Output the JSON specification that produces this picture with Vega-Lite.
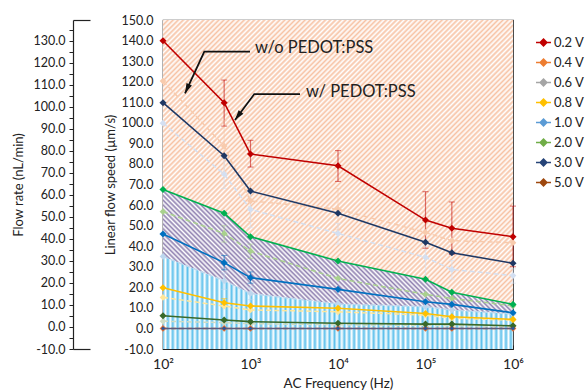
{
"$schema":"https://vega.github.io/schema/vega-lite/v6.json",
"width":350,"height":329,
"autosize":{"type":"none"},
"padding":{"left":163,"top":20,"right":73,"bottom":42},
"background":"white",
"config":{"font":"Lato","view":{"stroke":"#3a3a3a","strokeWidth":1.2},
"axis":{"domainColor":"#222","tickColor":"#222","labelColor":"#222","titleColor":"#222","titleFontWeight":"normal","grid":false,"labelFont":"Lato","titleFont":"Lato","domainWidth":1.2,"tickWidth":1}},
"datasets":{
"d":[
{"s":"A1","w":"w/","f":100,"v":139.9},{"s":"A1","w":"w/","f":500,"v":109.8,"lo":98.4,"hi":120.8},{"s":"A1","w":"w/","f":1000,"v":84.8,"lo":78.5,"hi":91.5},{"s":"A1","w":"w/","f":10000,"v":79.1,"lo":71.5,"hi":86.5},{"s":"A1","w":"w/","f":100000,"v":52.7,"lo":39,"hi":66.5},{"s":"A1","w":"w/","f":200000,"v":48.7,"lo":36,"hi":61.5},{"s":"A1","w":"w/","f":1000000,"v":44.6,"lo":30,"hi":59.5},
{"s":"A2","w":"w/","f":100,"v":109.8},{"s":"A2","w":"w/","f":500,"v":84},{"s":"A2","w":"w/","f":1000,"v":66.8},{"s":"A2","w":"w/","f":10000,"v":56},{"s":"A2","w":"w/","f":100000,"v":41.9},{"s":"A2","w":"w/","f":200000,"v":36.8},{"s":"A2","w":"w/","f":1000000,"v":31.7},
{"s":"A3","w":"w/","f":100,"v":67.6},{"s":"A3","w":"w/","f":500,"v":56},{"s":"A3","w":"w/","f":1000,"v":44.6},{"s":"A3","w":"w/","f":10000,"v":32.8},{"s":"A3","w":"w/","f":100000,"v":23.9},{"s":"A3","w":"w/","f":200000,"v":17.6},{"s":"A3","w":"w/","f":1000000,"v":11.7},
{"s":"A4","w":"w/","f":100,"v":45.9},{"s":"A4","w":"w/","f":500,"v":32,"lo":28.5,"hi":35.5},{"s":"A4","w":"w/","f":1000,"v":24.7,"lo":22,"hi":27.5},{"s":"A4","w":"w/","f":10000,"v":19},{"s":"A4","w":"w/","f":100000,"v":13},{"s":"A4","w":"w/","f":200000,"v":11.7},{"s":"A4","w":"w/","f":1000000,"v":7.6},
{"s":"A5","w":"w/","f":100,"v":19.8},{"s":"A5","w":"w/","f":500,"v":12.5,"lo":10.5,"hi":14.5},{"s":"A5","w":"w/","f":1000,"v":10.9},{"s":"A5","w":"w/","f":10000,"v":9.8},{"s":"A5","w":"w/","f":100000,"v":7.3},{"s":"A5","w":"w/","f":200000,"v":5.7},{"s":"A5","w":"w/","f":1000000,"v":4.4},
{"s":"A6","w":"w/","f":100,"v":6.2},{"s":"A6","w":"w/","f":500,"v":4.1},{"s":"A6","w":"w/","f":1000,"v":3.3},{"s":"A6","w":"w/","f":10000,"v":2.5},{"s":"A6","w":"w/","f":100000,"v":2.1},{"s":"A6","w":"w/","f":200000,"v":2.1},{"s":"A6","w":"w/","f":1000000,"v":1.3},
{"s":"A7","w":"w/","f":100,"v":0},{"s":"A7","w":"w/","f":500,"v":0},{"s":"A7","w":"w/","f":1000,"v":0},{"s":"A7","w":"w/","f":10000,"v":0},{"s":"A7","w":"w/","f":100000,"v":0},{"s":"A7","w":"w/","f":200000,"v":0},{"s":"A7","w":"w/","f":1000000,"v":0},
{"s":"B1","w":"w/o","f":100,"v":120.3},{"s":"B1","w":"w/o","f":500,"v":88.7,"lo":76,"hi":101},{"s":"B1","w":"w/o","f":1000,"v":62,"lo":52,"hi":72},{"s":"B1","w":"w/o","f":10000,"v":58,"lo":48,"hi":68},{"s":"B1","w":"w/o","f":100000,"v":46.7},{"s":"B1","w":"w/o","f":200000,"v":42.7},{"s":"B1","w":"w/o","f":1000000,"v":41.7},
{"s":"B2","w":"w/o","f":100,"v":99.8},{"s":"B2","w":"w/o","f":500,"v":75,"lo":68,"hi":83},{"s":"B2","w":"w/o","f":1000,"v":57.9,"lo":49,"hi":66},{"s":"B2","w":"w/o","f":10000,"v":46.2,"lo":41,"hi":51},{"s":"B2","w":"w/o","f":100000,"v":34.6,"lo":24,"hi":40},{"s":"B2","w":"w/o","f":200000,"v":28.7,"lo":24,"hi":33},{"s":"B2","w":"w/o","f":1000000,"v":25.7,"lo":22,"hi":29},
{"s":"B3","w":"w/o","f":100,"v":56.8},{"s":"B3","w":"w/o","f":500,"v":46.2,"lo":42,"hi":50},{"s":"B3","w":"w/o","f":1000,"v":37.6,"lo":34,"hi":41},{"s":"B3","w":"w/o","f":10000,"v":24.3},{"s":"B3","w":"w/o","f":100000,"v":16.6},{"s":"B3","w":"w/o","f":200000,"v":14.6},{"s":"B3","w":"w/o","f":1000000,"v":11},
{"s":"B4","w":"w/o","f":100,"v":35},{"s":"B4","w":"w/o","f":500,"v":23.2,"lo":19,"hi":27},{"s":"B4","w":"w/o","f":1000,"v":17,"lo":14,"hi":20},{"s":"B4","w":"w/o","f":10000,"v":11.9,"lo":10,"hi":14},{"s":"B4","w":"w/o","f":100000,"v":10.6},{"s":"B4","w":"w/o","f":200000,"v":9},{"s":"B4","w":"w/o","f":1000000,"v":7},
{"s":"B5","w":"w/o","f":100,"v":15.1},{"s":"B5","w":"w/o","f":500,"v":10.9},{"s":"B5","w":"w/o","f":1000,"v":9},{"s":"B5","w":"w/o","f":10000,"v":8.1},{"s":"B5","w":"w/o","f":100000,"v":6.5},{"s":"B5","w":"w/o","f":200000,"v":5},{"s":"B5","w":"w/o","f":1000000,"v":4},
{"s":"B6","w":"w/o","f":100,"v":3.5},{"s":"B6","w":"w/o","f":500,"v":2.8},{"s":"B6","w":"w/o","f":1000,"v":2.3},{"s":"B6","w":"w/o","f":10000,"v":1.8},{"s":"B6","w":"w/o","f":100000,"v":1.5},{"s":"B6","w":"w/o","f":200000,"v":1.4},{"s":"B6","w":"w/o","f":1000000,"v":1},
{"s":"B7","w":"w/o","f":100,"v":0},{"s":"B7","w":"w/o","f":500,"v":0},{"s":"B7","w":"w/o","f":1000,"v":0},{"s":"B7","w":"w/o","f":10000,"v":0},{"s":"B7","w":"w/o","f":100000,"v":0},{"s":"B7","w":"w/o","f":200000,"v":0},{"s":"B7","w":"w/o","f":1000000,"v":0}
],
"arrows":[{"a":1,"o":1,"f":987,"v":134.6},{"a":1,"o":2,"f":296.5,"v":134.6},{"a":1,"o":3,"f":178.4,"v":114.35},{"a":2,"o":1,"f":3679,"v":114},{"a":2,"o":2,"f":1105,"v":114},{"a":2,"o":3,"f":665,"v":101.4}],
"heads":[{"a":1,"f":188.6,"v":116.5},{"a":2,"f":719.5,"v":103.3}],
"notes":[{"t":"w/o PEDOT:PSS","f":1126,"v":136.2},{"t":"w/ PEDOT:PSS","f":4308,"v":115.1}],
"leg":[{"V":"0.2 V"},{"V":"0.4 V"},{"V":"0.6 V"},{"V":"0.8 V"},{"V":"1.0 V"},{"V":"2.0 V"},{"V":"3.0 V"},{"V":"5.0 V"}],
"flow":[{"q":-10},{"q":139.35}]
},
"layer":[
{
"data":{"name":"d"},
"encoding":{
"x":{"field":"f","type":"quantitative","scale":{"type":"log","domain":[100,1000000],"nice":false},
"axis":{"title":"AC Frequency (Hz)","values":[100,200,300,400,500,600,700,800,900,1000,2000,3000,4000,5000,6000,7000,8000,9000,10000,20000,30000,40000,50000,60000,70000,80000,90000,100000,200000,300000,400000,500000,600000,700000,800000,900000,1000000],
"labelExpr":"datum.value == 100 ? '10²' : datum.value == 1000 ? '10³' : datum.value == 10000 ? '10⁴' : datum.value == 100000 ? '10⁵' : datum.value == 1000000 ? '10⁶' : ''",
"tickSize":-4,"labelPadding":12,"labelFontSize":14,"titleFontSize":13.5,"titlePadding":5,"labelOverlap":false,"labelFlush":false}},
"y":{"field":"v","type":"quantitative","scale":{"domain":[-10,150],"nice":false,"zero":false},
"axis":{"title":"Linear flow speed (µm/s)","values":[-10,-5,0,5,10,15,20,25,30,35,40,45,50,55,60,65,70,75,80,85,90,95,100,105,110,115,120,125,130,135,140,145,150],
"labelExpr":"datum.value % 10 == 0 ? replace(format(datum.value, '.1f'), '−', '-') : ''",
"tickSize":-4,"labelPadding":14,"labelFontSize":12.5,"titleFontSize":13,"titlePadding":4,"labelOverlap":false,"labelFlush":false}}
},
"layer":[
{"transform":[{"pivot":"s","value":"v","groupby":["f"]}],
"mark":{"type":"area","color":{"gradient":"linear","x1":0,"y1":0,"x2":1.092,"y2":0.887,"stops":[
{"offset":0,"color":"#f7c3a5"},{"offset":0.004,"color":"#fff"},{"offset":0.008,"color":"#f7c3a5"},{"offset":0.012,"color":"#fff"},{"offset":0.016,"color":"#f7c3a5"},{"offset":0.02,"color":"#fff"},{"offset":0.024,"color":"#f7c3a5"},{"offset":0.028,"color":"#fff"},{"offset":0.032,"color":"#f7c3a5"},{"offset":0.036,"color":"#fff"},{"offset":0.04,"color":"#f7c3a5"},{"offset":0.044,"color":"#fff"},{"offset":0.048,"color":"#f7c3a5"},{"offset":0.052,"color":"#fff"},{"offset":0.056,"color":"#f7c3a5"},{"offset":0.06,"color":"#fff"},{"offset":0.064,"color":"#f7c3a5"},{"offset":0.068,"color":"#fff"},{"offset":0.072,"color":"#f7c3a5"},{"offset":0.076,"color":"#fff"},{"offset":0.08,"color":"#f7c3a5"},{"offset":0.084,"color":"#fff"},{"offset":0.088,"color":"#f7c3a5"},{"offset":0.092,"color":"#fff"},{"offset":0.096,"color":"#f7c3a5"},
{"offset":0.1,"color":"#fff"},{"offset":0.104,"color":"#f7c3a5"},{"offset":0.108,"color":"#fff"},{"offset":0.112,"color":"#f7c3a5"},{"offset":0.116,"color":"#fff"},{"offset":0.12,"color":"#f7c3a5"},{"offset":0.124,"color":"#fff"},{"offset":0.128,"color":"#f7c3a5"},{"offset":0.132,"color":"#fff"},{"offset":0.136,"color":"#f7c3a5"},{"offset":0.14,"color":"#fff"},{"offset":0.144,"color":"#f7c3a5"},{"offset":0.148,"color":"#fff"},{"offset":0.152,"color":"#f7c3a5"},{"offset":0.156,"color":"#fff"},{"offset":0.16,"color":"#f7c3a5"},{"offset":0.164,"color":"#fff"},{"offset":0.168,"color":"#f7c3a5"},{"offset":0.172,"color":"#fff"},{"offset":0.176,"color":"#f7c3a5"},{"offset":0.18,"color":"#fff"},{"offset":0.184,"color":"#f7c3a5"},{"offset":0.188,"color":"#fff"},{"offset":0.192,"color":"#f7c3a5"},{"offset":0.196,"color":"#fff"},
{"offset":0.2,"color":"#f7c3a5"},{"offset":0.204,"color":"#fff"},{"offset":0.208,"color":"#f7c3a5"},{"offset":0.212,"color":"#fff"},{"offset":0.216,"color":"#f7c3a5"},{"offset":0.22,"color":"#fff"},{"offset":0.224,"color":"#f7c3a5"},{"offset":0.228,"color":"#fff"},{"offset":0.232,"color":"#f7c3a5"},{"offset":0.236,"color":"#fff"},{"offset":0.24,"color":"#f7c3a5"},{"offset":0.244,"color":"#fff"},{"offset":0.248,"color":"#f7c3a5"},{"offset":0.252,"color":"#fff"},{"offset":0.256,"color":"#f7c3a5"},{"offset":0.26,"color":"#fff"},{"offset":0.264,"color":"#f7c3a5"},{"offset":0.268,"color":"#fff"},{"offset":0.272,"color":"#f7c3a5"},{"offset":0.276,"color":"#fff"},{"offset":0.28,"color":"#f7c3a5"},{"offset":0.284,"color":"#fff"},{"offset":0.288,"color":"#f7c3a5"},{"offset":0.292,"color":"#fff"},{"offset":0.296,"color":"#f7c3a5"},
{"offset":0.3,"color":"#fff"},{"offset":0.304,"color":"#f7c3a5"},{"offset":0.308,"color":"#fff"},{"offset":0.312,"color":"#f7c3a5"},{"offset":0.316,"color":"#fff"},{"offset":0.32,"color":"#f7c3a5"},{"offset":0.324,"color":"#fff"},{"offset":0.328,"color":"#f7c3a5"},{"offset":0.332,"color":"#fff"},{"offset":0.336,"color":"#f7c3a5"},{"offset":0.34,"color":"#fff"},{"offset":0.344,"color":"#f7c3a5"},{"offset":0.348,"color":"#fff"},{"offset":0.352,"color":"#f7c3a5"},{"offset":0.356,"color":"#fff"},{"offset":0.36,"color":"#f7c3a5"},{"offset":0.364,"color":"#fff"},{"offset":0.368,"color":"#f7c3a5"},{"offset":0.372,"color":"#fff"},{"offset":0.376,"color":"#f7c3a5"},{"offset":0.38,"color":"#fff"},{"offset":0.384,"color":"#f7c3a5"},{"offset":0.388,"color":"#fff"},{"offset":0.392,"color":"#f7c3a5"},{"offset":0.396,"color":"#fff"},
{"offset":0.4,"color":"#f7c3a5"},{"offset":0.404,"color":"#fff"},{"offset":0.408,"color":"#f7c3a5"},{"offset":0.412,"color":"#fff"},{"offset":0.416,"color":"#f7c3a5"},{"offset":0.42,"color":"#fff"},{"offset":0.424,"color":"#f7c3a5"},{"offset":0.428,"color":"#fff"},{"offset":0.432,"color":"#f7c3a5"},{"offset":0.436,"color":"#fff"},{"offset":0.44,"color":"#f7c3a5"},{"offset":0.444,"color":"#fff"},{"offset":0.448,"color":"#f7c3a5"},{"offset":0.452,"color":"#fff"},{"offset":0.456,"color":"#f7c3a5"},{"offset":0.46,"color":"#fff"},{"offset":0.464,"color":"#f7c3a5"},{"offset":0.468,"color":"#fff"},{"offset":0.472,"color":"#f7c3a5"},{"offset":0.476,"color":"#fff"},{"offset":0.48,"color":"#f7c3a5"},{"offset":0.484,"color":"#fff"},{"offset":0.488,"color":"#f7c3a5"},{"offset":0.492,"color":"#fff"},{"offset":0.496,"color":"#f7c3a5"},
{"offset":0.5,"color":"#fff"},{"offset":0.504,"color":"#f7c3a5"},{"offset":0.508,"color":"#fff"},{"offset":0.512,"color":"#f7c3a5"},{"offset":0.516,"color":"#fff"},{"offset":0.52,"color":"#f7c3a5"},{"offset":0.524,"color":"#fff"},{"offset":0.528,"color":"#f7c3a5"},{"offset":0.532,"color":"#fff"},{"offset":0.536,"color":"#f7c3a5"},{"offset":0.54,"color":"#fff"},{"offset":0.544,"color":"#f7c3a5"},{"offset":0.548,"color":"#fff"},{"offset":0.552,"color":"#f7c3a5"},{"offset":0.556,"color":"#fff"},{"offset":0.56,"color":"#f7c3a5"},{"offset":0.564,"color":"#fff"},{"offset":0.568,"color":"#f7c3a5"},{"offset":0.572,"color":"#fff"},{"offset":0.576,"color":"#f7c3a5"},{"offset":0.58,"color":"#fff"},{"offset":0.584,"color":"#f7c3a5"},{"offset":0.588,"color":"#fff"},{"offset":0.592,"color":"#f7c3a5"},{"offset":0.596,"color":"#fff"},
{"offset":0.6,"color":"#f7c3a5"},{"offset":0.604,"color":"#fff"},{"offset":0.608,"color":"#f7c3a5"},{"offset":0.612,"color":"#fff"},{"offset":0.616,"color":"#f7c3a5"},{"offset":0.62,"color":"#fff"},{"offset":0.624,"color":"#f7c3a5"},{"offset":0.628,"color":"#fff"},{"offset":0.632,"color":"#f7c3a5"},{"offset":0.636,"color":"#fff"},{"offset":0.64,"color":"#f7c3a5"},{"offset":0.644,"color":"#fff"},{"offset":0.648,"color":"#f7c3a5"},{"offset":0.652,"color":"#fff"},{"offset":0.656,"color":"#f7c3a5"},{"offset":0.66,"color":"#fff"},{"offset":0.664,"color":"#f7c3a5"},{"offset":0.668,"color":"#fff"},{"offset":0.672,"color":"#f7c3a5"},{"offset":0.676,"color":"#fff"},{"offset":0.68,"color":"#f7c3a5"},{"offset":0.684,"color":"#fff"},{"offset":0.688,"color":"#f7c3a5"},{"offset":0.692,"color":"#fff"},{"offset":0.696,"color":"#f7c3a5"},
{"offset":0.7,"color":"#fff"},{"offset":0.704,"color":"#f7c3a5"},{"offset":0.708,"color":"#fff"},{"offset":0.712,"color":"#f7c3a5"},{"offset":0.716,"color":"#fff"},{"offset":0.72,"color":"#f7c3a5"},{"offset":0.724,"color":"#fff"},{"offset":0.728,"color":"#f7c3a5"},{"offset":0.732,"color":"#fff"},{"offset":0.736,"color":"#f7c3a5"},{"offset":0.74,"color":"#fff"},{"offset":0.744,"color":"#f7c3a5"},{"offset":0.748,"color":"#fff"},{"offset":0.752,"color":"#f7c3a5"},{"offset":0.756,"color":"#fff"},{"offset":0.76,"color":"#f7c3a5"},{"offset":0.764,"color":"#fff"},{"offset":0.768,"color":"#f7c3a5"},{"offset":0.772,"color":"#fff"},{"offset":0.776,"color":"#f7c3a5"},{"offset":0.78,"color":"#fff"},{"offset":0.784,"color":"#f7c3a5"},{"offset":0.788,"color":"#fff"},{"offset":0.792,"color":"#f7c3a5"},{"offset":0.796,"color":"#fff"},
{"offset":0.8,"color":"#f7c3a5"},{"offset":0.804,"color":"#fff"},{"offset":0.808,"color":"#f7c3a5"},{"offset":0.812,"color":"#fff"},{"offset":0.816,"color":"#f7c3a5"},{"offset":0.82,"color":"#fff"},{"offset":0.824,"color":"#f7c3a5"},{"offset":0.828,"color":"#fff"},{"offset":0.832,"color":"#f7c3a5"},{"offset":0.836,"color":"#fff"},{"offset":0.84,"color":"#f7c3a5"},{"offset":0.844,"color":"#fff"},{"offset":0.848,"color":"#f7c3a5"},{"offset":0.852,"color":"#fff"},{"offset":0.856,"color":"#f7c3a5"},{"offset":0.86,"color":"#fff"},{"offset":0.864,"color":"#f7c3a5"},{"offset":0.868,"color":"#fff"},{"offset":0.872,"color":"#f7c3a5"},{"offset":0.876,"color":"#fff"},{"offset":0.88,"color":"#f7c3a5"},{"offset":0.884,"color":"#fff"},{"offset":0.888,"color":"#f7c3a5"},{"offset":0.892,"color":"#fff"},{"offset":0.896,"color":"#f7c3a5"},
{"offset":0.9,"color":"#fff"},{"offset":0.904,"color":"#f7c3a5"},{"offset":0.908,"color":"#fff"},{"offset":0.912,"color":"#f7c3a5"},{"offset":0.916,"color":"#fff"},{"offset":0.92,"color":"#f7c3a5"},{"offset":0.924,"color":"#fff"},{"offset":0.928,"color":"#f7c3a5"},{"offset":0.932,"color":"#fff"},{"offset":0.936,"color":"#f7c3a5"},{"offset":0.94,"color":"#fff"},{"offset":0.944,"color":"#f7c3a5"},{"offset":0.948,"color":"#fff"},{"offset":0.952,"color":"#f7c3a5"},{"offset":0.956,"color":"#fff"},{"offset":0.96,"color":"#f7c3a5"},{"offset":0.964,"color":"#fff"},{"offset":0.968,"color":"#f7c3a5"},{"offset":0.972,"color":"#fff"},{"offset":0.976,"color":"#f7c3a5"},{"offset":0.98,"color":"#fff"},{"offset":0.984,"color":"#f7c3a5"},{"offset":0.988,"color":"#fff"},{"offset":0.992,"color":"#f7c3a5"},{"offset":0.996,"color":"#fff"},{"offset":1,"color":"#f7c3a5"}
]}},
"encoding":{"y":{"field":"A3","type":"quantitative"},"y2":{"datum":150}}},
{"transform":[{"pivot":"s","value":"v","groupby":["f"]}],
"mark":{"type":"area","color":{"gradient":"linear","x1":0,"y1":1,"x2":1.2035,"y2":0.5716,"stops":[
{"offset":0,"color":"#8f80b0"},{"offset":0.005,"color":"#fff"},{"offset":0.01,"color":"#8f80b0"},{"offset":0.015,"color":"#fff"},{"offset":0.02,"color":"#8f80b0"},{"offset":0.025,"color":"#fff"},{"offset":0.03,"color":"#8f80b0"},{"offset":0.035,"color":"#fff"},{"offset":0.04,"color":"#8f80b0"},{"offset":0.045,"color":"#fff"},{"offset":0.05,"color":"#8f80b0"},{"offset":0.055,"color":"#fff"},{"offset":0.06,"color":"#8f80b0"},{"offset":0.065,"color":"#fff"},{"offset":0.07,"color":"#8f80b0"},{"offset":0.075,"color":"#fff"},{"offset":0.08,"color":"#8f80b0"},{"offset":0.085,"color":"#fff"},{"offset":0.09,"color":"#8f80b0"},{"offset":0.095,"color":"#fff"},
{"offset":0.1,"color":"#8f80b0"},{"offset":0.105,"color":"#fff"},{"offset":0.11,"color":"#8f80b0"},{"offset":0.115,"color":"#fff"},{"offset":0.12,"color":"#8f80b0"},{"offset":0.125,"color":"#fff"},{"offset":0.13,"color":"#8f80b0"},{"offset":0.135,"color":"#fff"},{"offset":0.14,"color":"#8f80b0"},{"offset":0.145,"color":"#fff"},{"offset":0.15,"color":"#8f80b0"},{"offset":0.155,"color":"#fff"},{"offset":0.16,"color":"#8f80b0"},{"offset":0.165,"color":"#fff"},{"offset":0.17,"color":"#8f80b0"},{"offset":0.175,"color":"#fff"},{"offset":0.18,"color":"#8f80b0"},{"offset":0.185,"color":"#fff"},{"offset":0.19,"color":"#8f80b0"},{"offset":0.195,"color":"#fff"},
{"offset":0.2,"color":"#8f80b0"},{"offset":0.205,"color":"#fff"},{"offset":0.21,"color":"#8f80b0"},{"offset":0.215,"color":"#fff"},{"offset":0.22,"color":"#8f80b0"},{"offset":0.225,"color":"#fff"},{"offset":0.23,"color":"#8f80b0"},{"offset":0.235,"color":"#fff"},{"offset":0.24,"color":"#8f80b0"},{"offset":0.245,"color":"#fff"},{"offset":0.25,"color":"#8f80b0"},{"offset":0.255,"color":"#fff"},{"offset":0.26,"color":"#8f80b0"},{"offset":0.265,"color":"#fff"},{"offset":0.27,"color":"#8f80b0"},{"offset":0.275,"color":"#fff"},{"offset":0.28,"color":"#8f80b0"},{"offset":0.285,"color":"#fff"},{"offset":0.29,"color":"#8f80b0"},{"offset":0.295,"color":"#fff"},
{"offset":0.3,"color":"#8f80b0"},{"offset":0.305,"color":"#fff"},{"offset":0.31,"color":"#8f80b0"},{"offset":0.315,"color":"#fff"},{"offset":0.32,"color":"#8f80b0"},{"offset":0.325,"color":"#fff"},{"offset":0.33,"color":"#8f80b0"},{"offset":0.335,"color":"#fff"},{"offset":0.34,"color":"#8f80b0"},{"offset":0.345,"color":"#fff"},{"offset":0.35,"color":"#8f80b0"},{"offset":0.355,"color":"#fff"},{"offset":0.36,"color":"#8f80b0"},{"offset":0.365,"color":"#fff"},{"offset":0.37,"color":"#8f80b0"},{"offset":0.375,"color":"#fff"},{"offset":0.38,"color":"#8f80b0"},{"offset":0.385,"color":"#fff"},{"offset":0.39,"color":"#8f80b0"},{"offset":0.395,"color":"#fff"},
{"offset":0.4,"color":"#8f80b0"},{"offset":0.405,"color":"#fff"},{"offset":0.41,"color":"#8f80b0"},{"offset":0.415,"color":"#fff"},{"offset":0.42,"color":"#8f80b0"},{"offset":0.425,"color":"#fff"},{"offset":0.43,"color":"#8f80b0"},{"offset":0.435,"color":"#fff"},{"offset":0.44,"color":"#8f80b0"},{"offset":0.445,"color":"#fff"},{"offset":0.45,"color":"#8f80b0"},{"offset":0.455,"color":"#fff"},{"offset":0.46,"color":"#8f80b0"},{"offset":0.465,"color":"#fff"},{"offset":0.47,"color":"#8f80b0"},{"offset":0.475,"color":"#fff"},{"offset":0.48,"color":"#8f80b0"},{"offset":0.485,"color":"#fff"},{"offset":0.49,"color":"#8f80b0"},{"offset":0.495,"color":"#fff"},
{"offset":0.5,"color":"#8f80b0"},{"offset":0.505,"color":"#fff"},{"offset":0.51,"color":"#8f80b0"},{"offset":0.515,"color":"#fff"},{"offset":0.52,"color":"#8f80b0"},{"offset":0.525,"color":"#fff"},{"offset":0.53,"color":"#8f80b0"},{"offset":0.535,"color":"#fff"},{"offset":0.54,"color":"#8f80b0"},{"offset":0.545,"color":"#fff"},{"offset":0.55,"color":"#8f80b0"},{"offset":0.555,"color":"#fff"},{"offset":0.56,"color":"#8f80b0"},{"offset":0.565,"color":"#fff"},{"offset":0.57,"color":"#8f80b0"},{"offset":0.575,"color":"#fff"},{"offset":0.58,"color":"#8f80b0"},{"offset":0.585,"color":"#fff"},{"offset":0.59,"color":"#8f80b0"},{"offset":0.595,"color":"#fff"},
{"offset":0.6,"color":"#8f80b0"},{"offset":0.605,"color":"#fff"},{"offset":0.61,"color":"#8f80b0"},{"offset":0.615,"color":"#fff"},{"offset":0.62,"color":"#8f80b0"},{"offset":0.625,"color":"#fff"},{"offset":0.63,"color":"#8f80b0"},{"offset":0.635,"color":"#fff"},{"offset":0.64,"color":"#8f80b0"},{"offset":0.645,"color":"#fff"},{"offset":0.65,"color":"#8f80b0"},{"offset":0.655,"color":"#fff"},{"offset":0.66,"color":"#8f80b0"},{"offset":0.665,"color":"#fff"},{"offset":0.67,"color":"#8f80b0"},{"offset":0.675,"color":"#fff"},{"offset":0.68,"color":"#8f80b0"},{"offset":0.685,"color":"#fff"},{"offset":0.69,"color":"#8f80b0"},{"offset":0.695,"color":"#fff"},
{"offset":0.7,"color":"#8f80b0"},{"offset":0.705,"color":"#fff"},{"offset":0.71,"color":"#8f80b0"},{"offset":0.715,"color":"#fff"},{"offset":0.72,"color":"#8f80b0"},{"offset":0.725,"color":"#fff"},{"offset":0.73,"color":"#8f80b0"},{"offset":0.735,"color":"#fff"},{"offset":0.74,"color":"#8f80b0"},{"offset":0.745,"color":"#fff"},{"offset":0.75,"color":"#8f80b0"},{"offset":0.755,"color":"#fff"},{"offset":0.76,"color":"#8f80b0"},{"offset":0.765,"color":"#fff"},{"offset":0.77,"color":"#8f80b0"},{"offset":0.775,"color":"#fff"},{"offset":0.78,"color":"#8f80b0"},{"offset":0.785,"color":"#fff"},{"offset":0.79,"color":"#8f80b0"},{"offset":0.795,"color":"#fff"},
{"offset":0.8,"color":"#8f80b0"},{"offset":0.805,"color":"#fff"},{"offset":0.81,"color":"#8f80b0"},{"offset":0.815,"color":"#fff"},{"offset":0.82,"color":"#8f80b0"},{"offset":0.825,"color":"#fff"},{"offset":0.83,"color":"#8f80b0"},{"offset":0.835,"color":"#fff"},{"offset":0.84,"color":"#8f80b0"},{"offset":0.845,"color":"#fff"},{"offset":0.85,"color":"#8f80b0"},{"offset":0.855,"color":"#fff"},{"offset":0.86,"color":"#8f80b0"},{"offset":0.865,"color":"#fff"},{"offset":0.87,"color":"#8f80b0"},{"offset":0.875,"color":"#fff"},{"offset":0.88,"color":"#8f80b0"},{"offset":0.885,"color":"#fff"},{"offset":0.89,"color":"#8f80b0"},{"offset":0.895,"color":"#fff"},
{"offset":0.9,"color":"#8f80b0"},{"offset":0.905,"color":"#fff"},{"offset":0.91,"color":"#8f80b0"},{"offset":0.915,"color":"#fff"},{"offset":0.92,"color":"#8f80b0"},{"offset":0.925,"color":"#fff"},{"offset":0.93,"color":"#8f80b0"},{"offset":0.935,"color":"#fff"},{"offset":0.94,"color":"#8f80b0"},{"offset":0.945,"color":"#fff"},{"offset":0.95,"color":"#8f80b0"},{"offset":0.955,"color":"#fff"},{"offset":0.96,"color":"#8f80b0"},{"offset":0.965,"color":"#fff"},{"offset":0.97,"color":"#8f80b0"},{"offset":0.975,"color":"#fff"},{"offset":0.98,"color":"#8f80b0"},{"offset":0.985,"color":"#fff"},{"offset":0.99,"color":"#8f80b0"},{"offset":0.995,"color":"#fff"},{"offset":1,"color":"#8f80b0"}
]}},
"encoding":{"y":{"field":"B4","type":"quantitative"},"y2":{"field":"A3"}}},
{"transform":[{"pivot":"s","value":"v","groupby":["f"]}],
"mark":{"type":"area","color":{"gradient":"linear","x1":0,"y1":0,"x2":1.4,"y2":0,"stops":[
{"offset":0,"color":"#5fc1ec"},{"offset":0.005,"color":"#fff"},{"offset":0.01,"color":"#5fc1ec"},{"offset":0.015,"color":"#fff"},{"offset":0.02,"color":"#5fc1ec"},{"offset":0.025,"color":"#fff"},{"offset":0.03,"color":"#5fc1ec"},{"offset":0.035,"color":"#fff"},{"offset":0.04,"color":"#5fc1ec"},{"offset":0.045,"color":"#fff"},{"offset":0.05,"color":"#5fc1ec"},{"offset":0.055,"color":"#fff"},{"offset":0.06,"color":"#5fc1ec"},{"offset":0.065,"color":"#fff"},{"offset":0.07,"color":"#5fc1ec"},{"offset":0.075,"color":"#fff"},{"offset":0.08,"color":"#5fc1ec"},{"offset":0.085,"color":"#fff"},{"offset":0.09,"color":"#5fc1ec"},{"offset":0.095,"color":"#fff"},
{"offset":0.1,"color":"#5fc1ec"},{"offset":0.105,"color":"#fff"},{"offset":0.11,"color":"#5fc1ec"},{"offset":0.115,"color":"#fff"},{"offset":0.12,"color":"#5fc1ec"},{"offset":0.125,"color":"#fff"},{"offset":0.13,"color":"#5fc1ec"},{"offset":0.135,"color":"#fff"},{"offset":0.14,"color":"#5fc1ec"},{"offset":0.145,"color":"#fff"},{"offset":0.15,"color":"#5fc1ec"},{"offset":0.155,"color":"#fff"},{"offset":0.16,"color":"#5fc1ec"},{"offset":0.165,"color":"#fff"},{"offset":0.17,"color":"#5fc1ec"},{"offset":0.175,"color":"#fff"},{"offset":0.18,"color":"#5fc1ec"},{"offset":0.185,"color":"#fff"},{"offset":0.19,"color":"#5fc1ec"},{"offset":0.195,"color":"#fff"},
{"offset":0.2,"color":"#5fc1ec"},{"offset":0.205,"color":"#fff"},{"offset":0.21,"color":"#5fc1ec"},{"offset":0.215,"color":"#fff"},{"offset":0.22,"color":"#5fc1ec"},{"offset":0.225,"color":"#fff"},{"offset":0.23,"color":"#5fc1ec"},{"offset":0.235,"color":"#fff"},{"offset":0.24,"color":"#5fc1ec"},{"offset":0.245,"color":"#fff"},{"offset":0.25,"color":"#5fc1ec"},{"offset":0.255,"color":"#fff"},{"offset":0.26,"color":"#5fc1ec"},{"offset":0.265,"color":"#fff"},{"offset":0.27,"color":"#5fc1ec"},{"offset":0.275,"color":"#fff"},{"offset":0.28,"color":"#5fc1ec"},{"offset":0.285,"color":"#fff"},{"offset":0.29,"color":"#5fc1ec"},{"offset":0.295,"color":"#fff"},
{"offset":0.3,"color":"#5fc1ec"},{"offset":0.305,"color":"#fff"},{"offset":0.31,"color":"#5fc1ec"},{"offset":0.315,"color":"#fff"},{"offset":0.32,"color":"#5fc1ec"},{"offset":0.325,"color":"#fff"},{"offset":0.33,"color":"#5fc1ec"},{"offset":0.335,"color":"#fff"},{"offset":0.34,"color":"#5fc1ec"},{"offset":0.345,"color":"#fff"},{"offset":0.35,"color":"#5fc1ec"},{"offset":0.355,"color":"#fff"},{"offset":0.36,"color":"#5fc1ec"},{"offset":0.365,"color":"#fff"},{"offset":0.37,"color":"#5fc1ec"},{"offset":0.375,"color":"#fff"},{"offset":0.38,"color":"#5fc1ec"},{"offset":0.385,"color":"#fff"},{"offset":0.39,"color":"#5fc1ec"},{"offset":0.395,"color":"#fff"},
{"offset":0.4,"color":"#5fc1ec"},{"offset":0.405,"color":"#fff"},{"offset":0.41,"color":"#5fc1ec"},{"offset":0.415,"color":"#fff"},{"offset":0.42,"color":"#5fc1ec"},{"offset":0.425,"color":"#fff"},{"offset":0.43,"color":"#5fc1ec"},{"offset":0.435,"color":"#fff"},{"offset":0.44,"color":"#5fc1ec"},{"offset":0.445,"color":"#fff"},{"offset":0.45,"color":"#5fc1ec"},{"offset":0.455,"color":"#fff"},{"offset":0.46,"color":"#5fc1ec"},{"offset":0.465,"color":"#fff"},{"offset":0.47,"color":"#5fc1ec"},{"offset":0.475,"color":"#fff"},{"offset":0.48,"color":"#5fc1ec"},{"offset":0.485,"color":"#fff"},{"offset":0.49,"color":"#5fc1ec"},{"offset":0.495,"color":"#fff"},
{"offset":0.5,"color":"#5fc1ec"},{"offset":0.505,"color":"#fff"},{"offset":0.51,"color":"#5fc1ec"},{"offset":0.515,"color":"#fff"},{"offset":0.52,"color":"#5fc1ec"},{"offset":0.525,"color":"#fff"},{"offset":0.53,"color":"#5fc1ec"},{"offset":0.535,"color":"#fff"},{"offset":0.54,"color":"#5fc1ec"},{"offset":0.545,"color":"#fff"},{"offset":0.55,"color":"#5fc1ec"},{"offset":0.555,"color":"#fff"},{"offset":0.56,"color":"#5fc1ec"},{"offset":0.565,"color":"#fff"},{"offset":0.57,"color":"#5fc1ec"},{"offset":0.575,"color":"#fff"},{"offset":0.58,"color":"#5fc1ec"},{"offset":0.585,"color":"#fff"},{"offset":0.59,"color":"#5fc1ec"},{"offset":0.595,"color":"#fff"},
{"offset":0.6,"color":"#5fc1ec"},{"offset":0.605,"color":"#fff"},{"offset":0.61,"color":"#5fc1ec"},{"offset":0.615,"color":"#fff"},{"offset":0.62,"color":"#5fc1ec"},{"offset":0.625,"color":"#fff"},{"offset":0.63,"color":"#5fc1ec"},{"offset":0.635,"color":"#fff"},{"offset":0.64,"color":"#5fc1ec"},{"offset":0.645,"color":"#fff"},{"offset":0.65,"color":"#5fc1ec"},{"offset":0.655,"color":"#fff"},{"offset":0.66,"color":"#5fc1ec"},{"offset":0.665,"color":"#fff"},{"offset":0.67,"color":"#5fc1ec"},{"offset":0.675,"color":"#fff"},{"offset":0.68,"color":"#5fc1ec"},{"offset":0.685,"color":"#fff"},{"offset":0.69,"color":"#5fc1ec"},{"offset":0.695,"color":"#fff"},
{"offset":0.7,"color":"#5fc1ec"},{"offset":0.705,"color":"#fff"},{"offset":0.71,"color":"#5fc1ec"},{"offset":0.715,"color":"#fff"},{"offset":0.72,"color":"#5fc1ec"}
]}},
"encoding":{"y":{"field":"B4","type":"quantitative"},"y2":{"datum":-10}}},
{"transform":[{"filter":"isValid(datum.lo)"}],
"mark":{"type":"rule","strokeWidth":1.2,"opacity":0.55},
"encoding":{"y":{"field":"lo","type":"quantitative"},"y2":{"field":"hi"},
"color":{"field":"s","type":"nominal","scale":{"domain":["A1","A2","A3","A4","A5","A6","A7","B1","B2","B3","B4","B5","B6","B7"],"range":["#C00000","#1F3864","#00B050","#0070C0","#FFC000","#38692A","#5E5B7E","#F8CBAD","#D4E0F2","#A9D18E","#BDD7EE","#FFE699","#CFDCC5","#E97132"]},"legend":null}}},
{"transform":[{"filter":"isValid(datum.lo)"}],
"mark":{"type":"tick","orient":"horizontal","size":6,"thickness":1,"opacity":0.55},
"encoding":{"y":{"field":"lo","type":"quantitative"},
"color":{"field":"s","type":"nominal","scale":{"domain":["A1","A2","A3","A4","A5","A6","A7","B1","B2","B3","B4","B5","B6","B7"],"range":["#C00000","#1F3864","#00B050","#0070C0","#FFC000","#38692A","#5E5B7E","#F8CBAD","#D4E0F2","#A9D18E","#BDD7EE","#FFE699","#CFDCC5","#E97132"]},"legend":null}}},
{"transform":[{"filter":"isValid(datum.hi)"}],
"mark":{"type":"tick","orient":"horizontal","size":6,"thickness":1,"opacity":0.55},
"encoding":{"y":{"field":"hi","type":"quantitative"},
"color":{"field":"s","type":"nominal","scale":{"domain":["A1","A2","A3","A4","A5","A6","A7","B1","B2","B3","B4","B5","B6","B7"],"range":["#C00000","#1F3864","#00B050","#0070C0","#FFC000","#38692A","#5E5B7E","#F8CBAD","#D4E0F2","#A9D18E","#BDD7EE","#FFE699","#CFDCC5","#E97132"]},"legend":null}}},
{"transform":[{"filter":"datum.w == 'w/o'"}],
"mark":{"type":"line","strokeWidth":1.5,"strokeDash":[5,3]},
"encoding":{"color":{"field":"s","type":"nominal","scale":{"domain":["A1","A2","A3","A4","A5","A6","A7","B1","B2","B3","B4","B5","B6","B7"],"range":["#C00000","#1F3864","#00B050","#0070C0","#FFC000","#38692A","#5E5B7E","#F8CBAD","#D4E0F2","#A9D18E","#BDD7EE","#FFE699","#CFDCC5","#E97132"]},"legend":null}}},
{"transform":[{"filter":"datum.w == 'w/o'"}],
"mark":{"type":"point","shape":"diamond","filled":true,"size":45,"opacity":1},
"encoding":{"color":{"field":"s","type":"nominal","scale":{"domain":["A1","A2","A3","A4","A5","A6","A7","B1","B2","B3","B4","B5","B6","B7"],"range":["#C00000","#1F3864","#00B050","#0070C0","#FFC000","#38692A","#5E5B7E","#F8CBAD","#D4E0F2","#A9D18E","#BDD7EE","#FFE699","#CFDCC5","#E97132"]},"legend":null}}},
{"transform":[{"filter":"datum.w == 'w/'"}],
"mark":{"type":"line","strokeWidth":1.6},
"encoding":{"color":{"field":"s","type":"nominal","scale":{"domain":["A1","A2","A3","A4","A5","A6","A7","B1","B2","B3","B4","B5","B6","B7"],"range":["#C00000","#1F3864","#00B050","#0070C0","#FFC000","#38692A","#5E5B7E","#F8CBAD","#D4E0F2","#A9D18E","#BDD7EE","#FFE699","#CFDCC5","#E97132"]},"legend":null}}},
{"transform":[{"filter":"datum.w == 'w/' && datum.s != 'A7'"}],
"mark":{"type":"point","shape":"diamond","filled":true,"size":50,"opacity":1},
"encoding":{"color":{"field":"s","type":"nominal","scale":{"domain":["A1","A2","A3","A4","A5","A6","A7","B1","B2","B3","B4","B5","B6","B7"],"range":["#C00000","#1F3864","#00B050","#0070C0","#FFC000","#38692A","#5E5B7E","#F8CBAD","#D4E0F2","#A9D18E","#BDD7EE","#FFE699","#CFDCC5","#E97132"]},"legend":null}}},
{"transform":[{"filter":"datum.s == 'A7'"}],
"mark":{"type":"point","shape":"diamond","filled":true,"size":18,"opacity":1,"color":"#2F5597"}},
{"data":{"name":"arrows"},"mark":{"type":"line","color":"#111","strokeWidth":1.8},
"encoding":{"detail":{"field":"a"},"order":{"field":"o","type":"quantitative"}}},
{"data":{"name":"heads"},"transform":[{"filter":"datum.a == 1"}],
"mark":{"type":"point","shape":"M0,1L-0.6,-1L0.6,-1Z","filled":true,"color":"#111","size":100,"angle":25,"opacity":1}},
{"data":{"name":"heads"},"transform":[{"filter":"datum.a == 2"}],
"mark":{"type":"point","shape":"M0,1L-0.6,-1L0.6,-1Z","filled":true,"color":"#111","size":100,"angle":37,"opacity":1}},
{"data":{"name":"notes"},"mark":{"type":"text","align":"left","baseline":"middle","fontSize":16.5,"color":"#222","font":"Lato"},
"encoding":{"text":{"field":"t"}}},
{"data":{"name":"leg"},
"mark":{"type":"point","filled":true,"opacity":1},
"encoding":{
"fill":{"field":"V","type":"nominal","scale":{"domain":["0.2 V","0.4 V","0.6 V","0.8 V","1.0 V","2.0 V","3.0 V","5.0 V"],"range":["#C00000","#ED7D31","#A5A5A5","#FFC000","#5B9BD5","#70AD47","#264478","#9E480E"]},
"legend":{"title":null,"orient":"none","legendX":372,"legendY":14,"symbolType":"M-1,0H1M0,-0.45L0.45,0L0,0.45L-0.45,0Z","symbolSize":225,"symbolStrokeWidth":1.5,"labelFontSize":13,"labelColor":"#222","labelFont":"Lato","rowPadding":4,"labelOffset":2,"symbolOpacity":1}},
"stroke":{"field":"V","type":"nominal","scale":{"domain":["0.2 V","0.4 V","0.6 V","0.8 V","1.0 V","2.0 V","3.0 V","5.0 V"],"range":["#C00000","#ED7D31","#A5A5A5","#FFC000","#5B9BD5","#70AD47","#264478","#9E480E"]},
"legend":{"title":null,"orient":"none","legendX":372,"legendY":14,"symbolType":"M-1,0H1M0,-0.45L0.45,0L0,0.45L-0.45,0Z","symbolSize":225,"symbolStrokeWidth":1.5,"labelFontSize":13,"labelColor":"#222","labelFont":"Lato","rowPadding":4,"labelOffset":2,"symbolOpacity":1}}
}}
]
},
{"data":{"name":"flow"},"mark":{"type":"point","opacity":0},
"encoding":{"y":{"field":"q","type":"quantitative","scale":{"domain":[-10,139.35],"nice":false,"zero":false},
"axis":{"orient":"left","offset":90,"title":"Flow rate (nL/min)","values":[-10,-5,0,5,10,15,20,25,30,35,40,45,50,55,60,65,70,75,80,85,90,95,100,105,110,115,120,125,130,135],
"labelExpr":"datum.value % 10 == 0 ? replace(format(datum.value, '.1f'), '−', '-') : ''",
"tickSize":4,"labelPadding":4,"labelFontSize":12.5,"titleFontSize":13,"titlePadding":8,"labelOverlap":false,"labelFlush":false}}}},
{"data":{"name":"flow"},"mark":{"type":"point","opacity":0},
"encoding":{"y":{"field":"q","type":"quantitative","scale":{"domain":[-10,139.35],"nice":false,"zero":false},
"axis":{"orient":"left","offset":90,"title":null,"values":[-10,139.35],"tickSize":-17,"tickWidth":1.2,"labels":false,"domain":false}}}}
],
"resolve":{"scale":{"y":"independent"}}
}
